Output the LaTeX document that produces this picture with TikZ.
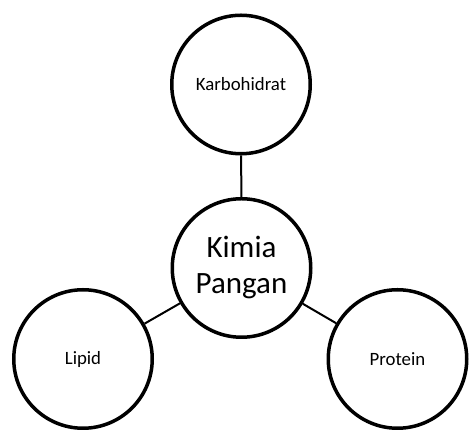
\documentclass[tikz,border=0pt]{standalone}
\usepackage{fontspec}
\setmainfont{Carlito}
\begin{document}
\begin{tikzpicture}[x=1pt,y=1pt,
  bubble/.style={circle,draw=black,line width=3.5pt,fill=white,minimum size=138.5pt,inner sep=0pt,align=center},
  small/.style={font=\fontsize{18.8}{22}\selectfont},
  big/.style={font=\fontsize{31}{36}\selectfont},
  link/.style={draw=black,line width=2pt}]
\useasboundingbox (0,0) rectangle (469,430);
\node[bubble,big] (c) at (241.5,162) {Kimia\\Pangan};
\node[bubble,small] (k) at (241,345.5) {Karbohidrat};
\node[bubble,small] (l) at (83,71) {Lipid};
\node[bubble,small] (p) at (397.5,71) {Protein};
\draw[link] (c) -- (k);
\draw[link] (c) -- (l);
\draw[link] (c) -- (p);
\end{tikzpicture}
\end{document}
